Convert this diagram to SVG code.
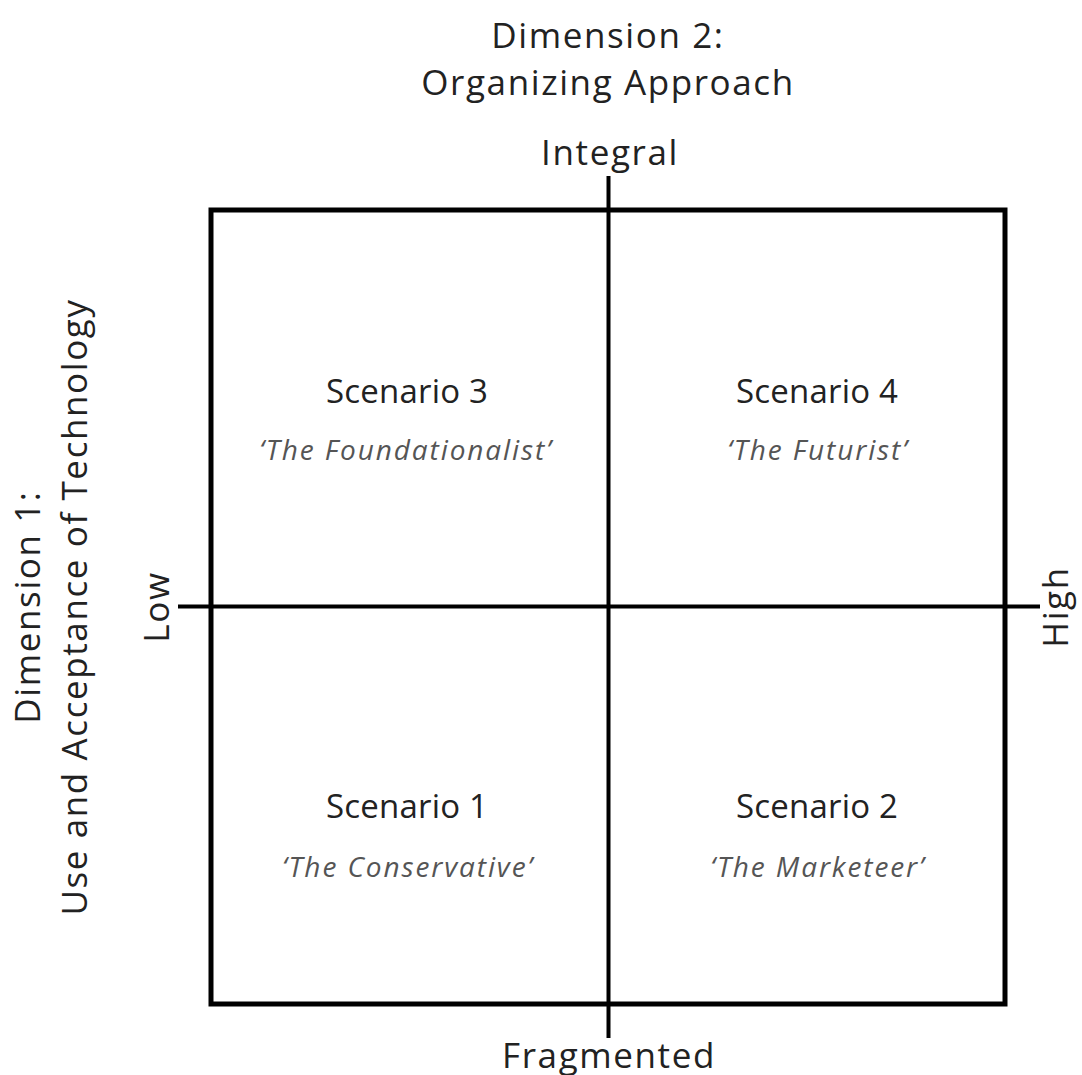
<svg xmlns="http://www.w3.org/2000/svg" width="1082" height="1075" viewBox="0 0 1082 1075">
<style>
.t{font-family:"Open Sans","Liberation Sans",sans-serif;fill:#222;text-anchor:middle}
.ax{font-size:35px;letter-spacing:1.6px}
.sc{font-size:33px;letter-spacing:0.2px}
.nm{font-size:28px;font-style:italic;fill:#555;letter-spacing:1.9px}
.ln{stroke:#000;fill:none}
</style>
<rect width="1082" height="1075" fill="#fff"/>
<g id="frame"><rect class="ln" x="211" y="210" width="794" height="794" stroke-width="5"/></g>
<g id="connectors">
<line class="ln" x1="608.5" y1="176" x2="608.5" y2="1038" stroke-width="4"/>
<line class="ln" x1="178" y1="606.5" x2="1040" y2="606.5" stroke-width="4"/>
</g>
<g id="dim2">
<text class="t ax" x="608" y="48">Dimension 2:</text>
<text class="t ax" x="608" y="95">Organizing Approach</text>
</g>
<g id="integral"><text class="t ax" x="610" y="165">Integral</text></g>
<g id="fragmented"><text class="t ax" x="609" y="1068">Fragmented</text></g>
<g id="dim1">
<text class="t ax" transform="translate(40,607) rotate(-90)">Dimension 1:</text>
<text class="t ax" transform="translate(87,607) rotate(-90)">Use and Acceptance of Technology</text>
</g>
<g id="low"><text class="t ax" transform="translate(169,607) rotate(-90)">Low</text></g>
<g id="high"><text class="t ax" transform="translate(1068,607) rotate(-90)">High</text></g>
<g id="scenario3">
<text class="t sc" x="407" y="403">Scenario 3</text>
<text class="t nm" x="406" y="460">‘The Foundationalist’</text>
</g>
<g id="scenario4">
<text class="t sc" x="817" y="403">Scenario 4</text>
<text class="t nm" x="818" y="460">‘The Futurist’</text>
</g>
<g id="scenario1">
<text class="t sc" x="407" y="818">Scenario 1</text>
<text class="t nm" x="408" y="877">‘The Conservative’</text>
</g>
<g id="scenario2">
<text class="t sc" x="817" y="818">Scenario 2</text>
<text class="t nm" x="818" y="877">‘The Marketeer’</text>
</g>
</svg>
